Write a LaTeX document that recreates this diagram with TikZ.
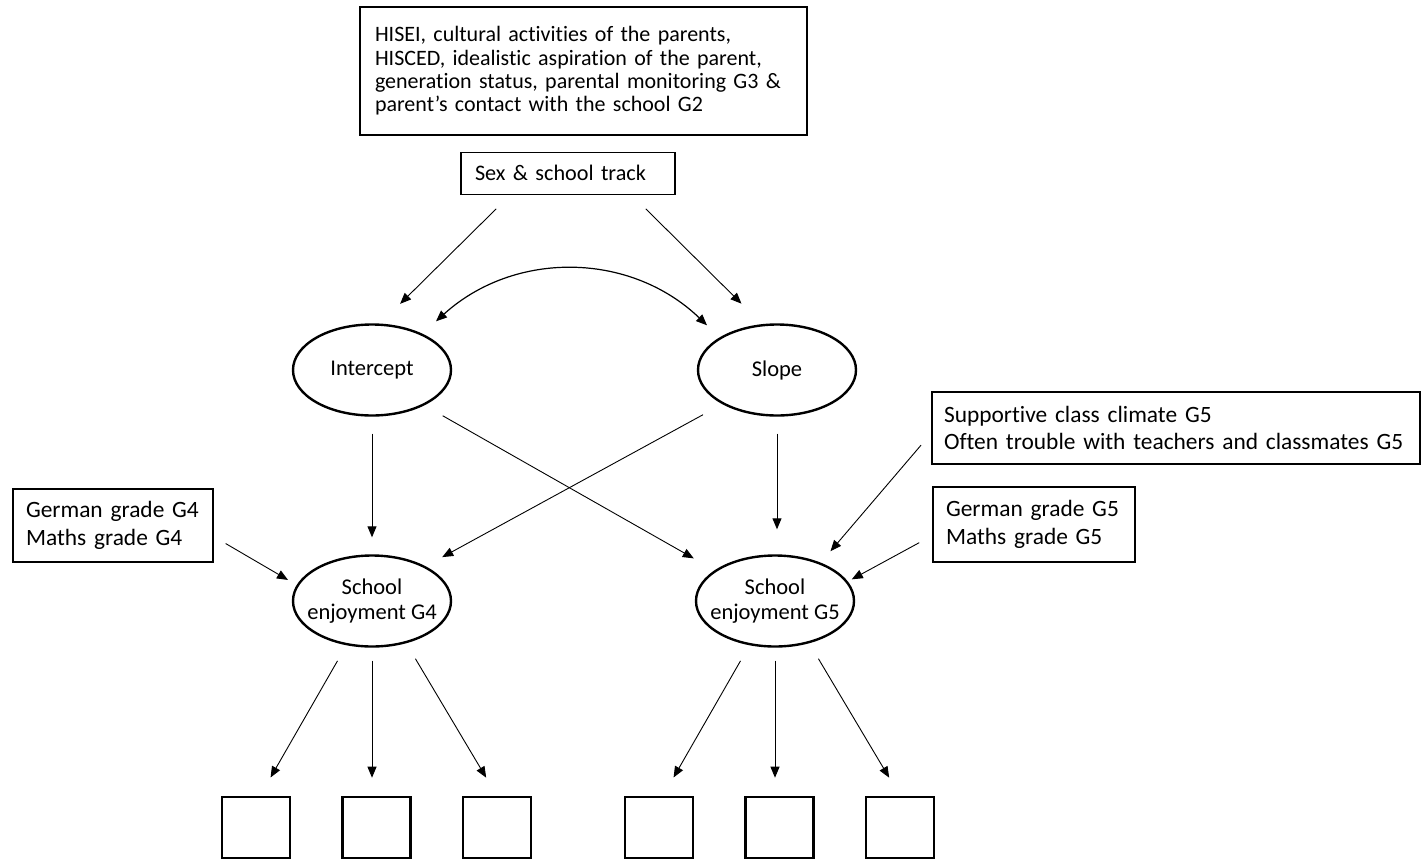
\documentclass[tikz,border=0pt]{standalone}
\usepackage{fontspec}
\setmainfont{Carlito}[Ligatures=NoCommon]
\usepackage{tikz}
\usetikzlibrary{shapes.geometric, arrows.meta, positioning}

\begin{document}
\begin{tikzpicture}[
    x=1pt, y=-1pt,
    box/.style={draw, line width=1.2pt, align=left, inner xsep=15pt, inner ysep=0pt, font=\fontsize{23.4}{27.3}\selectfont},
    latent/.style={draw, ellipse, line width=2.4pt, minimum width=158pt, minimum height=91pt, align=center, inner xsep=-12pt, font=\fontsize{22.5}{25.7}\selectfont},
    indbox/.style={draw, line width=2.4pt, minimum width=68pt, minimum height=61pt},
    arrow/.style={-{Triangle[length=11pt, width=9pt]}, line width=0.9pt},
    biarrow/.style={{Triangle[length=11pt, width=9pt]}-{Triangle[length=11pt, width=9pt]}, line width=1.2pt},
]
\useasboundingbox (0,0) rectangle (1421,859);
\node[box, text width=417pt, minimum height=128pt, font=\fontsize{22}{23.4}\selectfont] (backgr) at (583.5,71) {HISEI, cultural activities of the parents,\\HISCED, idealistic aspiration of the parent,\\generation status, parental monitoring G3 \&\\parent’s contact with the school G2};
\node[box, text width=186pt, inner xsep=14pt, minimum height=42pt, below=16pt of backgr, xshift=-15.5pt, font=\fontsize{22.2}{26}\selectfont] (sex) {Sex \& school track};
\node[latent] (icpt) at (372,370) {Intercept};
\node[latent] (slope) at (777,370) {Slope};
\node[latent] (enjL) at (372,601) {School\\enjoyment G4};
\node[latent] (enjR) at (775,601) {School\\enjoyment G5};
\node[box, text width=174pt, inner xsep=13pt, minimum height=73pt] (gradeL) at (113,525.5) {German grade G4\\Maths grade G4};
\node[box, text width=464pt, inner xsep=12pt, minimum height=72pt] (climate) at (1176,428) {Supportive class climate G5\\Often trouble with teachers and classmates G5};
\node[box, text width=176pt, inner xsep=13pt, minimum height=75pt] (gradeR) at (1034,524.5) {German grade G5\\Maths grade G5};
% indicators
\node[indbox, below=148pt of enjL, xshift=4.5pt] (y2) {};
\node[indbox, left=50pt of y2] (y1) {};
\node[indbox, right=50pt of y2] (y3) {};
\node[indbox, below=148pt of enjR, xshift=4.5pt] (y5) {};
\node[indbox, left=50pt of y5] (y4) {};
\node[indbox, right=50pt of y5] (y6) {};
% growth part
\draw[arrow, shorten <=20pt, shorten >=28pt] ([xshift=50pt]sex.south west) -- (icpt.80);
\draw[arrow, shorten <=20pt, shorten >=29pt] ([xshift=-44pt]sex.south east) -- (slope.108);
\coordinate (cvL) at ([xshift=64pt, yshift=2pt]icpt.north);
\coordinate (cvR) at ([xshift=-70pt, yshift=-2pt]slope.north);
\draw[biarrow] (cvL) to[bend left=43] (cvR);
\draw[arrow, shorten <=17pt, shorten >=17pt] (icpt) -- (enjL);
\draw[arrow, shorten <=17pt, shorten >=25pt] (slope.south) -- (slope.south |- enjR.north);
\draw[arrow, shorten <=21pt, shorten >=24pt] (icpt.-34) -- (enjR.153);
\draw[arrow, shorten <=22pt, shorten >=19pt] (slope.212) -- (enjL.33);
% covariates
\draw[arrow, shorten <=14pt, shorten >=10pt] ([yshift=-11pt]gradeL.east) -- (enjL.168);
\draw[arrow, shorten <=16pt, shorten >=15pt] ([yshift=-5pt]climate.west) -- (enjR.40);
\draw[arrow, shorten <=15pt, shorten >=4.5pt] ([yshift=-11pt]gradeR.west) -- (enjR.15);
% measurement
\draw[arrow, shorten <=18pt, shorten >=21pt] (enjL.240) -- ([xshift=4pt]y1.north);
\draw[arrow, shorten <=13pt, shorten >=18pt] (enjL.south) -- (enjL.south |- y2.north);
\draw[arrow, shorten <=18pt, shorten >=21pt] (enjL.309) -- (y3.north);
\draw[arrow, shorten <=18pt, shorten >=21pt] (enjR.240) -- ([xshift=4pt]y4.north);
\draw[arrow, shorten <=13pt, shorten >=18pt] (enjR.south) -- (enjR.south |- y5.north);
\draw[arrow, shorten <=18pt, shorten >=21pt] (enjR.309) -- (y6.north);
\end{tikzpicture}
\end{document}
